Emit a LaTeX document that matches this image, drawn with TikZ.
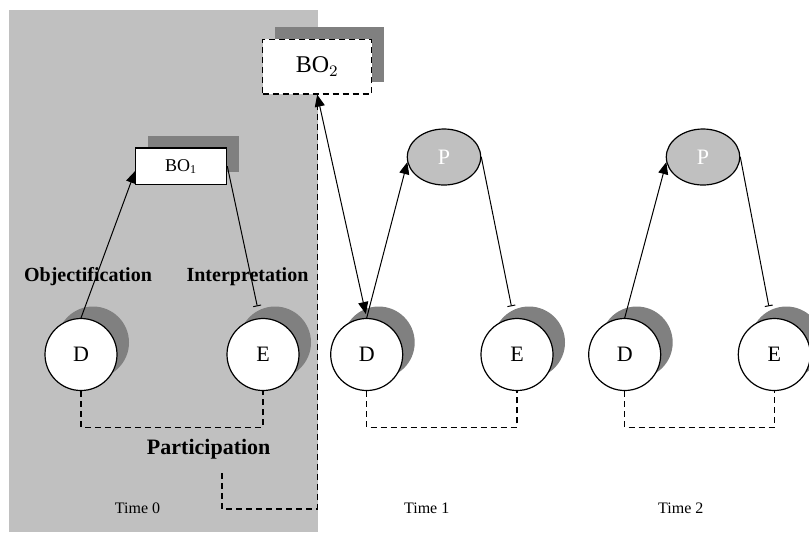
\documentclass[tikz,border=0pt]{standalone}
\usepackage{fontspec}
\setmainfont{Liberation Serif}
\usetikzlibrary{shapes.geometric, arrows.meta, positioning, calc, shadows}
\definecolor{panelgray}{RGB}{192,192,192}
\definecolor{shadowgray}{RGB}{128,128,128}

\begin{document}
\begin{tikzpicture}[
        x=0.5pt, y=-0.5pt,
        shade/.style={drop shadow={shadow xshift=6pt, shadow yshift=6pt, fill=shadowgray, opacity=1}},
        actor/.style={circle, draw=black, line width=0.6pt, fill=white, minimum size=36pt, inner sep=0pt, font=\fontsize{11}{13}\selectfont, shade},
        product/.style={ellipse, draw=black, line width=0.6pt, fill=panelgray, text=white, minimum width=36.7pt, minimum height=28pt, inner sep=0pt, font=\fontsize{11}{13}\selectfont},
        objbox/.style={rectangle, draw=black, line width=0.6pt, fill=white, inner sep=0pt, shade},
        boldlabel/.style={font=\bfseries\fontsize{10}{12}\selectfont},
        timelabel/.style={font=\fontsize{8}{10}\selectfont},
        arrow/.style={-{Triangle[width=5pt,length=6pt]}, line width=0.5pt},
        teearrow/.style={-{Bar[width=4pt]}, line width=0.5pt, shorten >=6pt},
        dashline/.style={dash pattern=on 3pt off 2pt, line width=0.6pt}
    ]
        \useasboundingbox (0,0) rectangle (809,532);
        % time 0 panel
        \fill[panelgray] (9,10) rectangle (318,532);

        % boundary objects
        \node[objbox, minimum width=45.5pt, minimum height=18.2pt, font=\fontsize{9}{11}\selectfont] (BO1) at (181.2,166.2) {BO\textsubscript{1}};
        \node[objbox, dashline, minimum width=54.5pt, minimum height=27.3pt, font=\fontsize{12}{14}\selectfont] (BO2) at (317.2,66.7) {BO$_2$};

        % actors
        \node[actor] (D0) at (81,354.5) {D};
        \node[actor] (E0) at (263,354.5) {E};
        \node[actor] (D1) at (366.7,354.5) {D};
        \node[actor] (E1) at (517,354.5) {E};
        \node[actor] (D2) at (624.7,354.5) {D};
        \node[actor] (E2) at (774.3,354.5) {E};

        % products
        \node[product] (P1) at (444,157) {P};
        \node[product] (P2) at (703,157) {P};

        % labels
        \node[boldlabel] (obj) at (88,277) {Objectification};
        \node[boldlabel] (int) at (247.5,277) {Interpretation};
        \node[boldlabel, font=\bfseries\fontsize{11}{13}\selectfont] (part) at (208.7,449) {Participation};
        \node[timelabel] (t0) at (137.5,508) {Time 0};
        \node[timelabel] (t1) at (426.7,508) {Time 1};
        \node[timelabel] (t2) at (680.8,508) {Time 2};

        % time 0
        \draw[arrow] (D0.north) -- (BO1.186);
        \draw[teearrow] (BO1.east) -- (E0.95);
        \draw[dashline] (D0.south) -- ++(0,36) -| (E0.south);

        % time 1
        \draw[arrow, {Triangle[width=5pt,length=6pt]}-{Triangle[width=5pt,length=6pt]}, shorten >=2pt] (BO2.south) -- (D1.north);
        \draw[arrow] (D1.north) -- (P1.188);
        \draw[teearrow] (P1.east) -- (E1.95);
        \draw[dashline] (D1.south) -- ++(0,36) -| (E1.south);

        % time 2
        \draw[arrow] (D2.north) -- (P2.188);
        \draw[teearrow] (P2.east) -- (E2.95);
        \draw[dashline] (D2.south) -- ++(0,36) -| (E2.south);

        % participation link
        \coordinate (pfoot) at (222,473);
        \draw[dashline] (pfoot) -- ++(0,36) -| (BO2.south);
    \end{tikzpicture}
\end{document}
